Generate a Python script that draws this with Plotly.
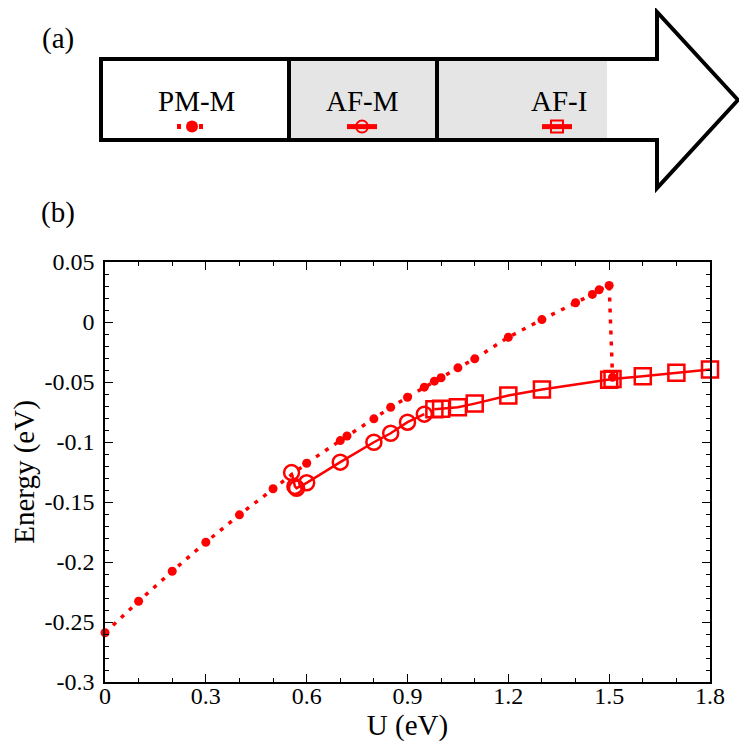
import plotly.graph_objects as go

# ---------------- data ----------------
pm_u = [0, 0.1, 0.2, 0.3, 0.4, 0.5, 0.6, 0.7, 0.72, 0.8, 0.85, 0.9, 0.95, 0.98,
        1.0, 1.05, 1.1, 1.2, 1.3, 1.4, 1.45, 1.47, 1.5, 1.51]
pm_e = [-0.259, -0.2327, -0.2077, -0.1835, -0.1607, -0.139, -0.1177, -0.0988,
        -0.095, -0.0807, -0.071, -0.0627, -0.0543, -0.0493, -0.0465, -0.0382,
        -0.0307, -0.0127, 0.002, 0.016, 0.023, 0.0268, 0.0304, -0.046]

afm_u = [0.555, 0.565, 0.57, 0.6, 0.7, 0.8, 0.85, 0.9, 0.95]
afm_e = [-0.1255, -0.137, -0.1385, -0.134, -0.1168, -0.1002, -0.0927, -0.0835, -0.0768]

afi_u = [0.98, 1.0, 1.05, 1.1, 1.2, 1.3, 1.5, 1.51, 1.6, 1.7, 1.8]
afi_e = [-0.0728, -0.0723, -0.0711, -0.068, -0.0613, -0.0563, -0.0482, -0.0475,
         -0.0452, -0.0423, -0.0396]

x_ticks = [0, 0.3, 0.6, 0.9, 1.2, 1.5, 1.8]
x_ticktext = ["0", "0.3", "0.6", "0.9", "1.2", "1.5", "1.8"]
y_ticks = [0.05, 0, -0.05, -0.1, -0.15, -0.2, -0.25, -0.3]
y_ticktext = ["0.05", "0", "-0.05", "-0.1", "-0.15", "-0.2", "-0.25", "-0.3"]

phase_names = ["PM-M", "AF-M", "AF-I"]

# ---------------- layout constants ----------------
# the page body has an 8px margin: figure is 739px and placed at (8, 8)
OFF = 8
W = H = 747 - OFF
FONT = "Liberation Serif"
RED = "#ff0000"


def px(x):
    return (x - OFF) / W


def py(y):
    return 1 - (y - OFF) / H


fig = go.Figure()

fig.add_trace(go.Scatter(
    x=pm_u, y=pm_e, mode="lines+markers", name="", legend="legend",
    line=dict(color=RED, width=3.5, dash="4px,7px"),
    marker=dict(symbol="circle", size=9, color=RED),
    cliponaxis=False))
fig.add_trace(go.Scatter(
    x=afm_u, y=afm_e, mode="lines+markers", name="", legend="legend2",
    line=dict(color=RED, width=2.5),
    marker=dict(symbol="circle-open", size=15, color=RED, line=dict(width=2.5)),
    cliponaxis=False))
fig.add_trace(go.Scatter(
    x=afi_u, y=afi_e, mode="lines+markers", name="", legend="legend3",
    line=dict(color=RED, width=2.5),
    marker=dict(symbol="square-open", size=16, color=RED, line=dict(width=2.5)),
    cliponaxis=False))

axis_common = dict(
    showline=True, linecolor="black", linewidth=1.5, mirror="allticks",
    ticks="inside", ticklen=8, tickwidth=1.2, tickcolor="black",
    showgrid=False, zeroline=False, automargin=False,
    tickfont=dict(family=FONT, size=24, color="black"),
)

# ---------------- arrow diagram (panel a) ----------------
left, right_body, tip = 101, 657, 738
top, bot = 59, 140
head_top, head_bot, mid = 12, 188, 100
div1, div2, gray_end = 289, 437, 607

shapes = [
    dict(type="rect", xref="paper", yref="paper",
         x0=px(div1), x1=px(gray_end), y0=py(bot), y1=py(top),
         fillcolor="#e5e5e5", line=dict(width=0), layer="below"),
    dict(type="path", xref="paper", yref="paper",
         path=(f"M {px(left)},{py(top)} L {px(right_body)},{py(top)} "
               f"L {px(right_body)},{py(head_top)} L {px(tip)},{py(mid)} "
               f"L {px(right_body)},{py(head_bot)} L {px(right_body)},{py(bot)} "
               f"L {px(left)},{py(bot)} Z"),
         line=dict(color="black", width=4)),
    dict(type="line", xref="paper", yref="paper",
         x0=px(div1), x1=px(div1), y0=py(top), y1=py(bot),
         line=dict(color="black", width=4)),
    dict(type="line", xref="paper", yref="paper",
         x0=px(div2), x1=px(div2), y0=py(top), y1=py(bot),
         line=dict(color="black", width=4)),
]

# legend samples (symbols only) under each phase label
symbol_centers = [194, 364, 559]
label_centers = [196, 362, 559]
legend_common = dict(
    xanchor="left", yanchor="middle", bgcolor="rgba(0,0,0,0)",
    borderwidth=0, itemsizing="constant", itemwidth=30,
    font=dict(family=FONT, size=14, color="black"),
)
legends = {}
for i, cx in enumerate(symbol_centers):
    key = "legend" if i == 0 else f"legend{i + 1}"
    legends[key] = dict(legend_common, x=px(cx - 22), y=py(127))

text_font = dict(family=FONT, size=29, color="black")
annotations = [
    dict(text="(a)", x=px(58), y=py(38), xref="paper", yref="paper",
         xanchor="center", yanchor="middle", showarrow=False, font=text_font),
    dict(text="(b)", x=px(58), y=py(212), xref="paper", yref="paper",
         xanchor="center", yanchor="middle", showarrow=False, font=text_font),
]
for name, cx in zip(phase_names, label_centers):
    annotations.append(dict(text=name, x=px(cx), y=py(101), xref="paper", yref="paper",
                            xanchor="center", yanchor="middle", showarrow=False,
                            font=text_font))

fig.update_layout(
    template="none",
    width=W, height=H,
    margin=dict(l=0, r=0, t=0, b=0, pad=0, autoexpand=False),
    paper_bgcolor="white", plot_bgcolor="white",
    showlegend=True,
    xaxis=dict(axis_common, domain=[px(105), px(710)], range=[0, 1.8],
               tickvals=x_ticks, ticktext=x_ticktext, ticklabelstandoff=-9,
               minor=dict(dtick=0.1, ticklen=4, tickcolor="black", ticks="inside"),
               title=dict(text="U (eV)", font=dict(family=FONT, size=29, color="black"),
                          standoff=5)),
    yaxis=dict(axis_common, domain=[py(682), py(262)], range=[-0.3, 0.05],
               tickvals=y_ticks, ticktext=y_ticktext, ticklabelstandoff=4,
               minor=dict(dtick=0.01, ticklen=4, tickcolor="black", ticks="inside"),
               title=dict(text="Energy (eV)", font=dict(family=FONT, size=29, color="black"),
                          standoff=18)),
    shapes=shapes,
    annotations=annotations,
    **legends,
)

fig.write_html("out.html")
